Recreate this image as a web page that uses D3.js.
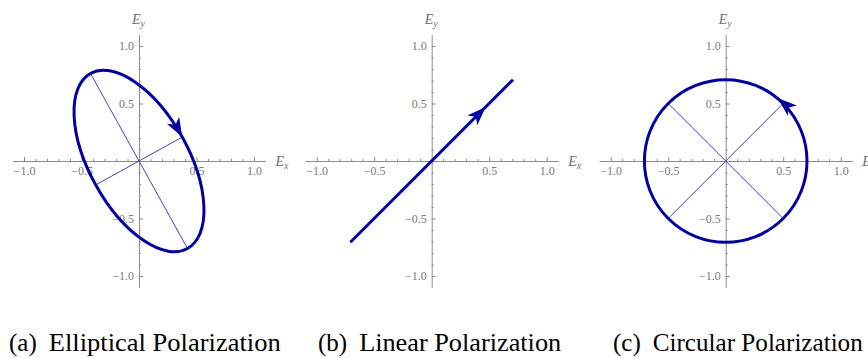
<!DOCTYPE html>
<html>
<head>
<meta charset="utf-8">
<script src="https://cdn.jsdelivr.net/npm/d3@7"></script>
<style>
body { margin: 0; background: #fff; }
.tick text { font-family: "Liberation Serif", "Times New Roman", serif; font-size: 12px; fill: #7a7a7a; }
.domain, .tick line { stroke: #8c8c8c; stroke-width: 1; }
</style>
</head>
<body>
<div id="chart"></div>
<script>
// axis ticks (shared by all three panels)
var axisExtent = [-1.1, 1.1];
var majorTicks = [-1.0, -0.5, 0.5, 1.0];
var minorTicks = [-0.9, -0.8, -0.7, -0.6, -0.4, -0.3, -0.2, -0.1,
                  0.1, 0.2, 0.3, 0.4, 0.6, 0.7, 0.8, 0.9];

var captionLetters = ["(a)", "(b)", "(c)"];
var captionTitles = ["Elliptical Polarization", "Linear Polarization", "Circular Polarization"];

// (a) elliptical: semi-axes, tilt of the major axis (deg), the two diameters, arrow
var ellipseRadii = [0.87, 0.43];
var ellipseAngle = -61;
var ellipseDiameters = [
  [[-0.422, 0.761], [0.422, -0.761]],
  [[-0.376, -0.208], [0.376, 0.208]]
];
var ellipseArrowTip = [0.376, 0.208];
var ellipseArrowDir = [0.485, -0.875];

// (b) linear
var linePoints = [[-0.707, -0.707], [0.707, 0.707]];
var lineArrowTip = [0.47, 0.47];
var lineArrowDir = [1, 1];

// (c) circular
var circleRadius = 0.707;
var circleDiameters = [
  [[-0.5, 0.5], [0.5, -0.5]],
  [[0.5, 0.5], [-0.5, -0.5]]
];
var circleArrowTip = [0.455, 0.545];
var circleArrowDir = [-0.755, 0.656];

var W = 868, H = 358;
var unit = 115;                 // px per field unit
var centersX = [139, 431.7, 725.7];
var centerY = 161;
var blue = "#0000a0", thinBlue = "#4444b8";

var svg = d3.select("#chart").append("svg")
  .attr("width", W).attr("height", H);

function makePanel(i) {
  var cx = centersX[i];
  var x = d3.scaleLinear().domain(axisExtent).range([cx + axisExtent[0] * unit, cx + axisExtent[1] * unit]);
  var y = d3.scaleLinear().domain(axisExtent).range([centerY - axisExtent[0] * unit, centerY - axisExtent[1] * unit]);
  var g = svg.append("g");

  // x axis: minor then major ticks, pointing up
  g.append("g").attr("transform", "translate(0," + y(0) + ")")
    .call(d3.axisBottom(x).tickValues(minorTicks).tickSize(-2).tickSizeOuter(0).tickFormat(""));
  g.append("g").attr("transform", "translate(0," + y(0) + ")")
    .call(d3.axisBottom(x).tickValues(majorTicks).tickSize(-4).tickPadding(5).tickFormat(d3.format(".1f")))
    .call(function (a) { a.select(".domain").remove(); });

  // y axis: ticks pointing right
  g.append("g").attr("transform", "translate(" + x(0) + ",0)")
    .call(d3.axisLeft(y).tickValues(minorTicks).tickSize(-2).tickSizeOuter(0).tickFormat(""));
  g.append("g").attr("transform", "translate(" + x(0) + ",0)")
    .call(d3.axisLeft(y).tickValues(majorTicks).tickSize(-4).tickPadding(5).tickFormat(d3.format(".1f")))
    .call(function (a) { a.select(".domain").remove(); });

  // axis names
  var ex = g.append("text")
    .attr("x", x(axisExtent[1]) + 10).attr("y", y(0) + 5)
    .style("font-family", "Liberation Serif, serif").style("font-style", "italic")
    .style("font-size", "14px").style("fill", "#707070");
  ex.append("tspan").text("E");
  ex.append("tspan").attr("dy", 3).style("font-size", "10px").text("x");

  var ey = g.append("text")
    .attr("x", x(0) - 7).attr("y", y(axisExtent[1]) - 11)
    .style("font-family", "Liberation Serif, serif").style("font-style", "italic")
    .style("font-size", "14px").style("fill", "#707070");
  ey.append("tspan").text("E");
  ey.append("tspan").attr("dy", 3).style("font-size", "10px").text("y");

  return { g: g, x: x, y: y };
}

function drawArrow(p, tip, dir) {
  var tx = p.x(tip[0]), ty = p.y(tip[1]);
  var ang = Math.atan2(p.y(dir[1]) - p.y(0), p.x(dir[0]) - p.x(0)) * 180 / Math.PI;
  p.g.append("path")
    .attr("d", "M0,0L-19,-7L-14,0L-19,7Z")
    .attr("transform", "translate(" + tx + "," + ty + ") rotate(" + ang + ")")
    .attr("fill", blue);
}

var line = function (p) {
  return d3.line().x(function (d) { return p.x(d[0]); }).y(function (d) { return p.y(d[1]); });
};

// (a)
var pa = makePanel(0);
pa.g.selectAll(".diam").data(ellipseDiameters).enter().append("path")
  .attr("d", line(pa)).attr("stroke", thinBlue).attr("stroke-width", 1).attr("fill", "none");
pa.g.append("ellipse")
  .attr("cx", pa.x(0)).attr("cy", pa.y(0))
  .attr("rx", pa.x(ellipseRadii[0]) - pa.x(0))
  .attr("ry", pa.x(ellipseRadii[1]) - pa.x(0))
  .attr("transform", "rotate(" + (-ellipseAngle) + "," + pa.x(0) + "," + pa.y(0) + ")")
  .attr("fill", "none").attr("stroke", blue).attr("stroke-width", 3);
drawArrow(pa, ellipseArrowTip, ellipseArrowDir);

// (b)
var pb = makePanel(1);
pb.g.append("path").datum(linePoints)
  .attr("d", line(pb)).attr("stroke", blue).attr("stroke-width", 3).attr("fill", "none");
drawArrow(pb, lineArrowTip, lineArrowDir);

// (c)
var pc = makePanel(2);
pc.g.selectAll(".diam").data(circleDiameters).enter().append("path")
  .attr("d", line(pc)).attr("stroke", thinBlue).attr("stroke-width", 1).attr("fill", "none");
pc.g.append("circle")
  .attr("cx", pc.x(0)).attr("cy", pc.y(0))
  .attr("r", pc.x(circleRadius) - pc.x(0))
  .attr("fill", "none").attr("stroke", blue).attr("stroke-width", 3);
drawArrow(pc, circleArrowTip, circleArrowDir);

// captions
var captionX = [9, 318, 613];
var titleWidths = [232, 202, 210];
captionLetters.forEach(function (l, i) {
  var t = svg.append("text")
    .attr("x", captionX[i]).attr("y", 351)
    .style("font-family", "Liberation Serif, Times New Roman, serif")
    .style("font-size", "25px").style("fill", "#000");
  t.append("tspan").text(l);
  t.append("tspan").attr("dx", 12).text(captionTitles[i])
    .attr("textLength", titleWidths[i]).attr("lengthAdjust", "spacingAndGlyphs");
});
</script>
</body>
</html>
